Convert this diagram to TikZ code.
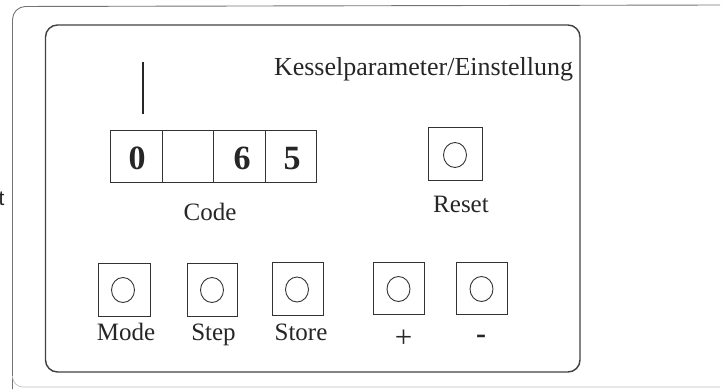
\documentclass[tikz,border=0pt]{standalone}
\usepackage{fontspec}
\setmainfont{Liberation Serif}
\newfontfamily\sanst{Liberation Sans}
\usetikzlibrary{shapes.geometric}
\begin{document}
\begin{tikzpicture}[x=1pt,y=-1pt,
  lbl/.style={inner sep=0pt, anchor=base, font=\fontsize{25}{30}\selectfont, text=black!85},
  btn/.style={draw=black!80, line width=0.9pt, minimum width=52pt, minimum height=53pt, inner sep=0pt},
  led/.style={draw=black!80, line width=0.9pt, ellipse, minimum width=23pt, minimum height=25pt, inner sep=0pt},
  cell/.style={draw=black!80, line width=1pt, minimum width=51.5pt, minimum height=52pt, inner sep=0pt},
  digit/.style={inner sep=0pt, font=\fontsize{34}{40}\selectfont\bfseries, text=black!85}]
\useasboundingbox (0,0) rectangle (725,389);
% outer partial frame
\draw[black!55, line width=0.9pt, rounded corners=13pt] (720,5) -- (12.5,6.5) -- (12.5,389);
\draw[black!25, line width=0.7pt, rounded corners=10pt] (12.5,376) -- (13,387) -- (720,387);
\node[inner sep=0pt, anchor=base west, font=\sanst\fontsize{21}{25}\selectfont, text=black!85] (tt) at (-1.5,205) {t};
% inner panel
\node[draw=black!75, line width=1.4pt, rounded corners=12pt, minimum width=534.5pt, minimum height=347pt, inner sep=0pt] (panel) at (312.75,198.5) {};
\node[inner sep=0pt, anchor=base, font=\fontsize{26}{31}\selectfont, text=black!85] (title) at (423.5,75) {Kesselparameter/Einstellung};
% cursor line
\coordinate (c1) at (143,62);
\coordinate (c2) at (143,114);
\draw[black!85, line width=1.3pt] (c1) -- (c2);
% code cells
\node[cell] (d1) at (136.5,156) {};
\node[cell] (d2) at (188,156) {};
\node[cell] (d3) at (239.5,156) {};
\node[cell] (d4) at (291,156) {};
\node[digit] (n1) at (137,158.5) {0};
\node[digit] (n3) at (242,158.5) {6};
\node[digit] (n4) at (292,158.5) {5};
\node[lbl] (code) at (210,220) {Code};
% reset
\node[btn, minimum width=54pt] (reset) at (455,153.5) {};
\node[led] (resetled) at (455,155) {};
\node[lbl] (resetl) at (461,212) {Reset};
% bottom buttons
\node[btn] (mode) at (124,289.5) {};
\node[led] (modeled) at (123,290) {};
\node[lbl] (model) at (126,340) {Mode};
\node[btn, minimum width=50pt] (step) at (212,289.5) {};
\node[led] (stepled) at (212,290) {};
\node[lbl] (stepl) at (213.5,340) {Step};
\node[btn, minimum width=51pt] (store) at (297.5,289) {};
\node[led] (storeled) at (297,289.5) {};
\node[lbl] (storel) at (301,340) {Store};
\node[btn, minimum width=51pt, minimum height=52pt] (plus) at (398.5,288) {};
\node[led] (plusled) at (398.5,289) {};
\node[lbl, anchor=center, font=\fontsize{31}{36}\selectfont] (plusl) at (403.5,339) {+};
\node[btn, minimum width=51pt, minimum height=52pt] (minus) at (481.5,288) {};
\node[led] (minusled) at (481.5,289) {};
\node[lbl, anchor=center, font=\fontsize{30}{36}\selectfont\bfseries] (minusl) at (481,339.5) {-};
\end{tikzpicture}
\end{document}
